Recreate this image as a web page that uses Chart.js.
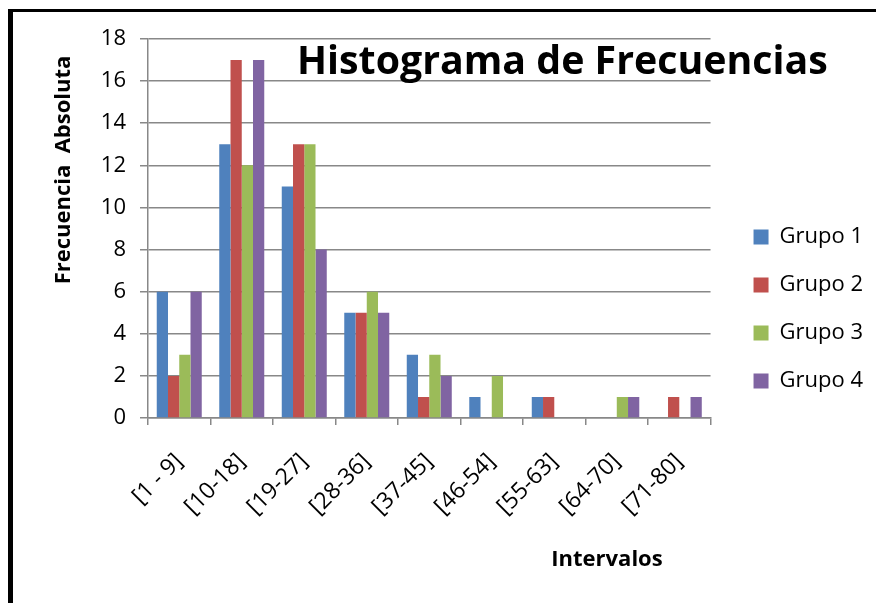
<!DOCTYPE html>
<html><head><meta charset="utf-8">
<script src="https://cdn.jsdelivr.net/npm/chart.js@4.4.1/dist/chart.umd.min.js"></script>
<style>
html,body{margin:0;padding:0;background:#fff;overflow:hidden}
#wrap{position:relative;width:876px;height:603px;overflow:hidden}
#frame{position:absolute;left:8px;top:9px;width:900px;height:700px;border-left:5px solid #000;border-top:3px solid #000}
canvas{position:absolute;left:0;top:0}
</style></head><body>
<div id="wrap"><div id="frame"></div><canvas id="c" width="876" height="603"></canvas></div>
<script>
const categories = ['[1 - 9]', '[10-18]', '[19-27]', '[28-36]', '[37-45]', '[46-54]', '[55-63]', '[64-70]', '[71-80]'];
const grupo1 = [6, 13, 11, 5, 3, 1, 1, 0, 0];
const grupo2 = [2, 17, 13, 5, 1, 0, 1, 0, 1];
const grupo3 = [3, 12, 13, 6, 3, 2, 0, 1, 0];
const grupo4 = [6, 17, 8, 5, 2, 0, 0, 1, 1];
const seriesNames = ['Grupo 1', 'Grupo 2', 'Grupo 3', 'Grupo 4'];
const seriesColors = ['#4F81BD', '#C0504D', '#9BBB59', '#8064A2'];
const yMin = 0, yMax = 18, yStep = 2;
const chartTitle = 'Histograma de Frecuencias';
const yTitle = 'Frecuencia  Absoluta';
const xTitle = 'Intervalos';

const FONT = '"Open Sans"';
const GRID = '#888888';

const textPlugin = {
  id: 'texts',
  afterDraw(chart) {
    const ctx = chart.ctx;
    ctx.save();
    ctx.fillStyle = '#000';
    ctx.textAlign = 'left';
    ctx.textBaseline = 'alphabetic';
    ctx.font = 'bold 39.3px ' + FONT;
    ctx.fillText(chartTitle, 297, 74);
    ctx.font = 'bold 22px ' + FONT;
    ctx.textAlign = 'center';
    ctx.fillText(xTitle, 607, 566);
    ctx.translate(70, 170);
    ctx.rotate(-Math.PI / 2);
    ctx.fillText(yTitle, 0, 0);
    ctx.restore();
  }
};

const series = [grupo1, grupo2, grupo3, grupo4];
new Chart(document.getElementById('c'), {
  type: 'bar',
  data: {
    labels: categories,
    datasets: series.map((d, i) => ({
      label: seriesNames[i],
      data: d,
      backgroundColor: seriesColors[i],
      borderWidth: 0,
      categoryPercentage: 0.72,
      barPercentage: 1.0
    }))
  },
  options: {
    responsive: false,
    animation: false,
    layout: { padding: { top: 39, left: 0, right: 3, bottom: 24 } },
    plugins: {
      tooltip: { enabled: false },
      title: { display: false },
      legend: {
        position: 'right',
        align: 'center',
        labels: {
          color: '#000',
          font: { family: FONT, size: 22 },
          boxWidth: 15,
          boxHeight: 15,
          padding: 26
        }
      }
    },
    scales: {
      x: {
        grid: { display: true, drawOnChartArea: false, drawTicks: true, tickLength: 7, color: GRID, lineWidth: 1.5, offset: true },
        border: { display: true, color: GRID, width: 1.5 },
        ticks: { color: '#000', font: { family: FONT, size: 23 }, maxRotation: 45, minRotation: 45, autoSkip: false, padding: 23 },
        afterFit(scale) { scale.height = 603 - 418 - 24; }
      },
      y: {
        min: yMin, max: yMax,
        grid: { color: GRID, lineWidth: 1.5, drawTicks: true, tickLength: 8, tickColor: GRID },
        border: { display: true, color: GRID, width: 1.5 },
        ticks: { stepSize: yStep, color: '#000', font: { family: FONT, size: 22 }, padding: 14 },
        afterFit(scale) { scale.width = 148; }
      },
      yR: {
        type: 'linear', position: 'right', display: true,
        grid: { display: false }, border: { display: false },
        ticks: { display: false },
        afterFit(scale) { scale.width = 17; }
      }
    }
  },
  plugins: [textPlugin]
});
</script>
</body></html>
